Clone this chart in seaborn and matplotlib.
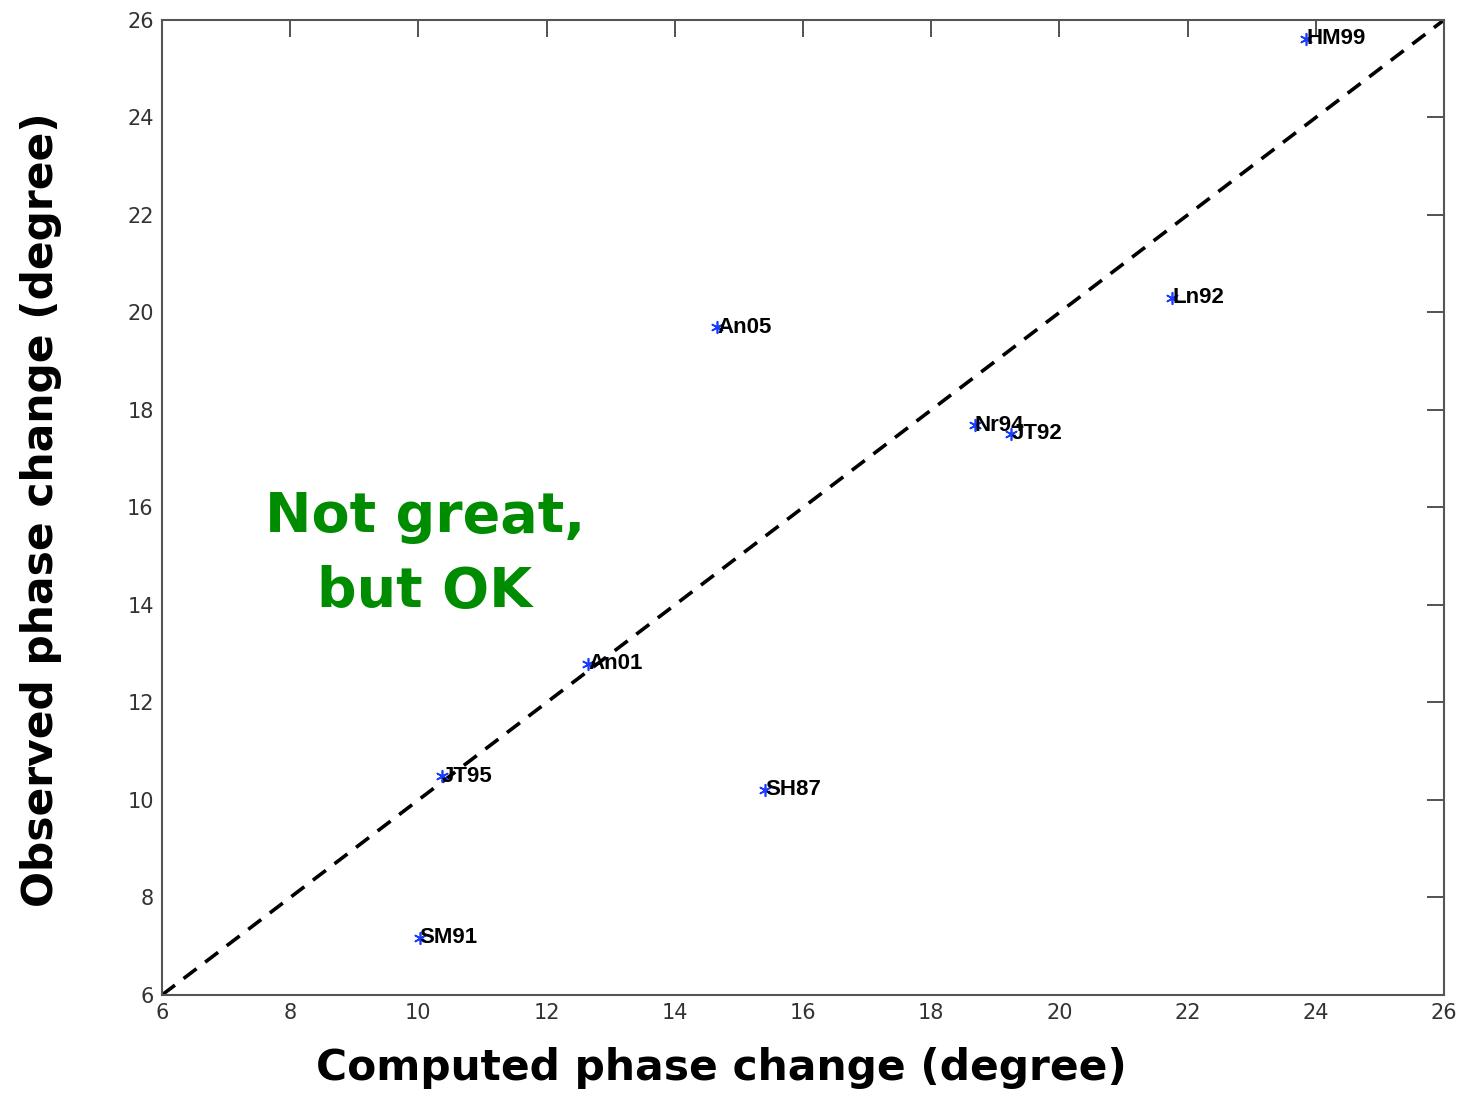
import matplotlib
matplotlib.use("Agg")
import matplotlib.pyplot as plt
import seaborn as sns
import pandas as pd

labels = ["HM99", "Ln92", "An05", "Nr94", "JT92", "An01", "JT95", "SH87", "SM91"]
computed = [23.85, 21.76, 14.66, 18.68, 19.25, 12.65, 10.37, 15.41, 10.02]
observed = [25.61, 20.30, 19.70, 17.69, 17.51, 12.79, 10.49, 10.21, 7.17]
ticks = [6, 8, 10, 12, 14, 16, 18, 20, 22, 24, 26]

df = pd.DataFrame({"computed": computed, "observed": observed, "label": labels})

sns.set_style("white")
plt.rcParams['font.family'] = ['DejaVu Sans']

fig = plt.figure(figsize=(14.61, 10.96), dpi=100)
ax = fig.add_axes([0.1109, 0.0922, 0.8775, 0.8896])

ax.plot([6, 26], [6, 26], color="black", lw=2.6, ls=(0, (4.5, 3)), zorder=1)
sns.scatterplot(data=df, x="computed", y="observed", ax=ax, marker=(6, 2, 0),
                color="#1a3cff", s=70, linewidth=1.2, edgecolor="#1a3cff", zorder=3, legend=False)
for x, y, t in zip(computed, observed, labels):
    ax.text(x, y, t, fontsize=16, fontweight="bold", ha="left", va="center",
            color="black", zorder=4, family="Liberation Sans")

ax.set_xlim(6, 26)
ax.set_ylim(6, 26)
ax.set_xticks(ticks)
ax.set_yticks(ticks)
ax.tick_params(direction="in", length=12, width=1.3, color="#444444", top=True, right=True,
               labelsize=15, labelcolor="#333333", pad=6)
for s in ax.spines.values():
    s.set_color("#555555")
    s.set_linewidth(1.5)

ax.set_xlabel("Computed phase change (degree)", fontsize=30.5, fontweight="bold", color="black")
ax.set_ylabel("Observed phase change (degree)", fontsize=30.5, fontweight="bold", color="black")
ax.xaxis.set_label_coords(0.436, -0.053)
ax.yaxis.set_label_coords(-0.078, 0.498)

ax.text(10.10, 15.03, "Not great,\nbut OK", fontsize=40, fontweight="bold", color="#008c00",
        ha="center", va="center", linespacing=1.5)

fig.savefig("out.png", dpi=100)
